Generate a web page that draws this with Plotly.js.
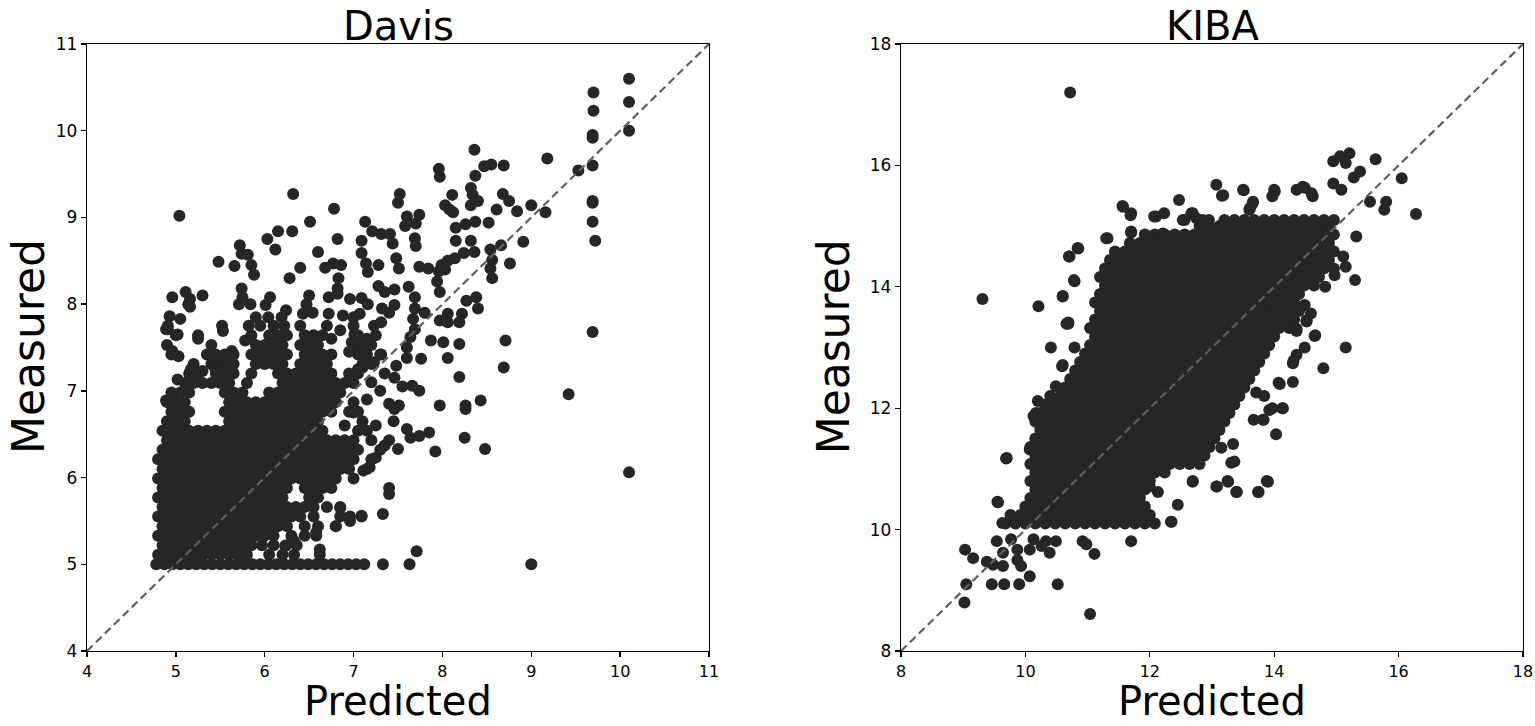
<!DOCTYPE html>
<html>
<head>
<meta charset="utf-8">
<script src="https://cdn.plot.ly/plotly-3.0.1.min.js"></script>
<style>html,body{margin:0;padding:0;background:#fff;}#chart{width:1535px;height:726px;}</style>
</head>
<body>
<div id="chart"></div>
<script>
// ---------- Davis ----------
// predicted values of the points lying on the measured = 5 floor
const davisFloorPred = [4.78,4.87,4.96,5.05,5.14,5.23,5.32,5.41,5.5,5.59,5.68,5.77,5.86,5.95,6.04,6.13,6.22,6.31,6.4,6.49,6.58,6.67,6.76,6.85,6.94,7.03,7.12,7.33,7.63,9.0];
const davisFloorMeas = 5;
// dense core, one row per measured level: [measured, predicted...]
const davisCoreRows = [
 [5.11, 4.8,4.9,5.0,5.1,5.2,5.3,5.4,5.5,5.6,5.7,5.8, 6.05,6.2,6.33,6.62],
 [5.22, 4.85,4.95,5.05,5.15,5.25,5.35,5.45,5.55,5.65,5.75,5.85, 5.97,6.1,6.24,6.36],
 [5.33, 4.8,4.9,5.0,5.1,5.2,5.3,5.4,5.5,5.6,5.7,5.8,5.9,6.0,6.1, 6.3,6.45,6.58],
 [5.44, 4.85,4.95,5.05,5.15,5.25,5.35,5.45,5.55,5.65,5.75,5.85,5.95,6.05,6.15,6.25, 6.45,6.6,6.8],
 [5.55, 4.8,4.9,5.0,5.1,5.2,5.3,5.4,5.5,5.6,5.7,5.8,5.9,6.0,6.1,6.2,6.3,6.4, 6.55,6.85,6.96,7.09],
 [5.66, 4.85,4.95,5.05,5.15,5.25,5.35,5.45,5.55,5.65,5.75,5.85,5.95,6.05,6.15,6.25,6.35,6.45,6.55, 6.7,6.85],
 [5.77, 4.8,4.9,5.0,5.1,5.2,5.3,5.4,5.5,5.6,5.7,5.8,5.9,6.0,6.1,6.2, 6.5,6.6],
 [5.88, 4.85,4.95,5.05,5.15,5.25,5.35,5.45,5.55,5.65,5.75,5.85,5.95,6.05,6.15,6.25, 6.45,6.55,6.65,6.75,7.4],
 [5.99, 4.8,4.9,5.0,5.1,5.2,5.3,5.4,5.5,5.6,5.7,5.8,5.9,6.0,6.1,6.2,6.3,6.4,6.5,6.6,6.7,6.8, 7.0],
 [6.10, 4.85,4.95,5.05,5.15,5.25,5.35,5.45,5.55,5.65,5.75,5.85,5.95,6.05,6.15,6.25,6.35,6.45,6.55,6.65,6.75,6.85,6.95, 7.15],
 [6.21, 4.8,4.9,5.0,5.1,5.2,5.3,5.4,5.5,5.6,5.7,5.8,5.9,6.0,6.1,6.2,6.3,6.4,6.5,6.6,6.7,6.8,6.9,7.0, 7.2],
 [6.32, 4.85,4.95,5.05,5.15,5.25,5.35,5.45,5.55,5.65,5.75,5.85,5.95,6.05,6.15,6.25,6.35,6.45,6.55,6.65,6.75,6.85,6.95,7.05, 7.3],
 [6.43, 4.9,5.0,5.1,5.2,5.3,5.4,5.5,5.6,5.7,5.8,5.9,6.0,6.1,6.2,6.3,6.4,6.5,6.6,6.7,6.8,6.9,7.0, 7.2,7.4],
 [6.54, 4.85,4.95,5.05,5.15,5.25,5.35,5.45,5.55,5.65,5.75,5.85,5.95,6.05,6.15,6.25,6.35,6.45,6.55,6.65, 7.05,7.15],
 [6.65, 4.9,5.0,5.1, 5.6,5.7,5.8,5.9,6.0,6.1,6.2,6.3,6.4,6.5,6.6, 7.1],
 [6.76, 4.95,5.05,5.15, 5.55,5.65,5.75,5.85,5.95,6.05,6.15,6.25,6.35,6.45,6.55,6.65,6.75, 6.95,7.05],
 [6.87, 4.9,5.0,5.1, 5.6,5.7,5.8,5.9,6.0,6.1,6.2,6.3,6.4,6.5,6.6,6.7,6.8, 7.0],
 [6.98, 4.95,5.05,5.15, 5.55,5.65,5.75, 6.05,6.15,6.25,6.35,6.45,6.55,6.65,6.75,6.85],
 [7.09, 5.1,5.2,5.3,5.4,5.5,5.6, 5.8, 6.2,6.3,6.4,6.5,6.6,6.7,6.8, 6.9,7.0],
 [7.20, 5.15,5.25, 5.45,5.55,5.65, 5.85, 6.15,6.25,6.35,6.45,6.55,6.65,6.75, 6.95,7.05],
 [7.31, 5.2, 5.4,5.5,5.6, 5.9,6.0,6.1,6.2, 6.4,6.5,6.6,6.7, 7.1,7.2],
 [7.42, 4.95, 5.35,5.45,5.55,5.65, 5.85,5.95,6.05,6.15,6.25, 6.45,6.55,6.65,6.75, 7.05,7.15,7.3],
 [7.53, 4.9, 5.4, 5.9,6.0,6.1,6.2, 6.4,6.5,6.6, 7.0,7.2],
 [7.64, 5.0, 5.25, 5.85,6.05,6.15,6.25, 6.45,6.55,6.65, 7.05,7.25],
 [7.75, 4.91, 5.52, 5.82,5.95, 6.1,6.22, 6.4, 7.0]
];
// scattered points: [predicted, measured]
const davisScatter = [
 [5.04,9.02],[10.1,10.6],[10.1,10.33],[10.1,10.0],[9.70,10.44],[9.70,10.23],[9.69,9.95],[9.69,9.92],[9.69,9.6],[9.69,9.19],[9.69,9.17],[9.69,8.95],[9.72,8.73],[9.69,7.68],
 [9.18,9.68],[9.53,9.54],[8.36,9.78],[8.55,9.61],[8.47,9.59],[8.69,9.6],[7.96,9.56],[7.97,9.47],[8.37,9.48],[8.32,9.34],[8.34,9.26],[8.11,9.26],
 [8.03,9.14],[8.08,9.09],[8.12,9.06],[8.32,9.14],[8.40,9.19],[8.68,9.27],[8.75,9.19],[8.61,9.09],[8.84,9.07],[9.0,9.14],[9.16,9.06],[8.52,8.94],
 [8.15,8.88],[8.26,8.92],[8.37,8.95],[6.32,9.27],[6.78,9.1],[6.51,8.95],[7.52,9.27],[7.50,9.17],[7.60,9.01],[7.74,9.03],[7.58,8.9],[7.70,8.93],
 [7.13,8.95],[7.21,8.84],[7.31,8.81],[7.41,8.81],[7.44,8.7],[7.69,8.76],[7.70,8.67],[6.15,8.84],[6.31,8.84],[6.03,8.75],[6.12,8.63],[6.82,8.75],
 [7.09,8.73],[7.09,8.59],[5.72,8.68],[5.74,8.58],[5.81,8.57],[6.6,8.6],[5.48,8.49],[5.66,8.44],[5.85,8.45],[5.88,8.34],[6.40,8.42],[6.68,8.42],
 [6.77,8.47],[6.86,8.45],[7.14,8.47],[7.28,8.45],[7.16,8.37],[7.48,8.53],[7.51,8.41],[7.74,8.43],[7.84,8.41],[7.99,8.45],[8.06,8.5],[8.14,8.53],
 [8.24,8.59],[8.36,8.6],[7.96,8.38],[8.03,8.4],[8.54,8.63],[8.66,8.68],[8.56,8.51],[8.54,8.41],[8.56,8.3],[8.76,8.47],[8.91,8.72],[8.15,8.73],
 [8.32,8.73],[6.28,8.3],[6.83,8.3],[6.82,8.18],[5.74,8.18],[5.75,8.08],[4.96,8.08],[5.11,8.14],[5.16,8.06],[5.30,8.1],[5.14,8.0],[5.16,7.97],
 [4.93,7.86],[5.05,7.83],[4.91,7.71],[5.53,7.69],[5.71,8.0],[5.84,8.0],[6.06,8.08],[6.01,7.99],[6.24,7.93],[6.19,7.85],[5.90,7.85],[6.04,7.85],
 [6.50,8.1],[6.47,8.0],[6.43,7.89],[6.54,7.9],[6.72,8.08],[6.82,8.12],[6.96,8.06],[7.09,8.07],[7.16,8.0],[6.72,7.89],[6.88,7.87],[7.07,7.89],
 [7.28,8.21],[7.35,8.14],[7.46,8.17],[7.62,8.2],[7.69,8.08],[7.32,7.95],[7.46,7.99],[7.69,7.95],[7.67,7.83],[7.94,8.26],[7.97,8.14],[8.06,7.89],
 [7.97,7.81],[8.27,8.04],[8.38,8.08],[8.40,7.95],[8.22,7.89],
 [8.71,7.58],[8.69,7.27],[9.42,6.96],[10.1,6.06],[8.19,7.54],[8.06,7.38],[8.19,7.16],[7.97,6.83],[8.26,6.83],[8.26,6.79],[8.43,6.89],[7.85,6.52],
 [8.25,6.46],[7.92,6.3],[8.48,6.33],[7.71,5.15],[7.33,5.58],[7.40,5.81],[7.09,5.56],[6.96,5.5],[6.80,5.44],[6.85,5.65],[6.62,5.17],[6.58,5.37],
 [6.33,5.27],[6.23,5.21],[7.25,6.23],[7.11,6.08],[7.18,6.12],[7.35,6.37],[7.50,6.33],[7.60,6.56],[7.64,6.46],[7.74,6.48],[7.46,6.79],[7.51,6.83],
 [7.74,7.0],[7.66,7.06],[7.87,7.58],[8.01,7.56],[7.60,7.38],[7.76,7.37],[8.06,7.79],[8.19,7.79],[7.69,7.71],[7.64,7.62],[7.01,7.65],[7.09,7.52],
 [6.98,7.56],[7.23,7.75],[7.31,7.79],[7.48,7.29],[7.46,7.15],[7.10,7.27],[7.23,7.33],[7.31,7.42],[4.89,7.71],[5.02,7.65],[5.25,7.6],[5.78,7.58],
 [4.96,7.46],[5.03,7.4],[5.39,7.42],[5.55,7.4],[5.63,7.46],[5.17,7.25],[5.30,7.23],[5.44,7.27],[5.02,7.13],[4.89,6.89],[5.65,7.31],
 [6.9,6.6],[7.0,6.75],[7.15,6.9],[7.3,7.0],[7.4,6.85],[7.2,7.1],[7.05,7.25],[7.35,7.2],[7.55,7.05],[7.25,6.6],[7.45,6.65],[6.95,7.45],
 [7.15,7.6],[6.85,7.7],[7.0,7.85],[7.4,7.9],[7.6,7.5],[7.8,7.9],[6.75,7.6],[6.7,7.75]
];

// ---------- KIBA ----------
// dense core, one row per measured level: [measured, predicted...]
const kibaCoreRows = [
 [10.10, 9.68,9.84,10.0,10.16,10.32,10.48,10.64,10.8,10.96,11.12,11.28,11.44,11.6,11.76,11.92,12.08],
 [10.24, 9.76,9.92,10.08,10.24,10.4,10.56,10.72,10.88,11.04,11.2,11.36,11.52,11.68,11.84,12.0],
 [10.38, 10.0,10.16,10.32,10.48,10.64,10.8,10.96,11.12,11.28,11.44,11.6,11.76,11.92],
 [10.52, 10.08,10.24,10.4,10.56,10.72,10.88,11.04,11.2,11.36,11.52,11.68,11.84],
 [10.66, 10.16,10.32,10.48,10.64,10.8,10.96,11.12,11.28,11.44,11.6,11.76,11.92],
 [10.80, 10.08,10.24,10.4,10.56,10.72,10.88,11.04,11.2,11.36,11.52,11.68,11.84,12.0],
 [10.94, 10.16,10.32,10.48,10.64,10.8,10.96,11.12,11.28,11.44,11.6,11.76,11.92,12.08,12.24],
 [11.08, 10.08,10.24,10.4,10.56,10.72,10.88,11.04,11.2,11.36,11.52,11.68,11.84,12.0,12.16,12.32,12.48,12.64,12.8],
 [11.22, 10.16,10.32,10.48,10.64,10.8,10.96,11.12,11.28,11.44,11.6,11.76,11.92,12.08,12.24,12.4,12.56,12.72,12.88],
 [11.36, 10.08,10.24,10.4,10.56,10.72,10.88,11.04,11.2,11.36,11.52,11.68,11.84,12.0,12.16,12.32,12.48,12.64,12.8,12.96],
 [11.50, 10.16,10.32,10.48,10.64,10.8,10.96,11.12,11.28,11.44,11.6,11.76,11.92,12.08,12.24,12.4,12.56,12.72,12.88,13.04],
 [11.64, 10.24,10.4,10.56,10.72,10.88,11.04,11.2,11.36,11.52,11.68,11.84,12.0,12.16,12.32,12.48,12.64,12.8,12.96,13.12],
 [11.78, 10.16,10.32,10.48,10.64,10.8,10.96,11.12,11.28,11.44,11.6,11.76,11.92,12.08,12.24,12.4,12.56,12.72,12.88,13.04,13.2],
 [11.92, 10.24,10.4,10.56,10.72,10.88,11.04,11.2,11.36,11.52,11.68,11.84,12.0,12.16,12.32,12.48,12.64,12.8,12.96,13.12,13.28],
 [12.06, 10.32,10.48,10.64,10.8,10.96,11.12,11.28,11.44,11.6,11.76,11.92,12.08,12.24,12.4,12.56,12.72,12.88,13.04,13.2,13.36],
 [12.20, 10.4,10.56,10.72,10.88,11.04,11.2,11.36,11.52,11.68,11.84,12.0,12.16,12.32,12.48,12.64,12.8,12.96,13.12,13.28,13.44],
 [12.34, 10.64,10.8,10.96,11.12,11.28,11.44,11.6,11.76,11.92,12.08,12.24,12.4,12.56,12.72,12.88,13.04,13.2,13.36,13.52],
 [12.48, 10.72,10.88,11.04,11.2,11.36,11.52,11.68,11.84,12.0,12.16,12.32,12.48,12.64,12.8,12.96,13.12,13.28,13.44,13.6],
 [12.62, 10.8,10.96,11.12,11.28,11.44,11.6,11.76,11.92,12.08,12.24,12.4,12.56,12.72,12.88,13.04,13.2,13.36,13.52,13.68],
 [12.76, 10.88,11.04,11.2,11.36,11.52,11.68,11.84,12.0,12.16,12.32,12.48,12.64,12.8,12.96,13.12,13.28,13.44,13.6,13.76],
 [12.90, 10.96,11.12,11.28,11.44,11.6,11.76,11.92,12.08,12.24,12.4,12.56,12.72,12.88,13.04,13.2,13.36,13.52,13.68,13.84],
 [13.04, 11.04,11.2,11.36,11.52,11.68,11.84,12.0,12.16,12.32,12.48,12.64,12.8,12.96,13.12,13.28,13.44,13.6,13.76,13.92],
 [13.18, 11.12,11.28,11.44,11.6,11.76,11.92,12.08,12.24,12.4,12.56,12.72,12.88,13.04,13.2,13.36,13.52,13.68,13.84,14.0],
 [13.32, 11.04,11.2,11.36,11.52,11.68,11.84,12.0,12.16,12.32,12.48,12.64,12.8,12.96,13.12,13.28,13.44,13.6,13.76,13.92,14.08,14.24],
 [13.46, 11.12,11.28,11.44,11.6,11.76,11.92,12.08,12.24,12.4,12.56,12.72,12.88,13.04,13.2,13.36,13.52,13.68,13.84,14.0,14.16,14.32],
 [13.60, 11.2,11.36,11.52,11.68,11.84,12.0,12.16,12.32,12.48,12.64,12.8,12.96,13.12,13.28,13.44,13.6,13.76,13.92,14.08,14.24,14.4],
 [13.74, 11.12,11.28,11.44,11.6,11.76,11.92,12.08,12.24,12.4,12.56,12.72,12.88,13.04,13.2,13.36,13.52,13.68,13.84,14.0,14.16,14.32],
 [13.88, 11.2,11.36,11.52,11.68,11.84,12.0,12.16,12.32,12.48,12.64,12.8,12.96,13.12,13.28,13.44,13.6,13.76,13.92,14.08,14.24,14.4],
 [14.02, 11.28,11.44,11.6,11.76,11.92,12.08,12.24,12.4,12.56,12.72,12.88,13.04,13.2,13.36,13.52,13.68,13.84,14.0,14.16,14.32,14.48,14.64],
 [14.16, 11.2,11.36,11.52,11.68,11.84,12.0,12.16,12.32,12.48,12.64,12.8,12.96,13.12,13.28,13.44,13.6,13.76,13.92,14.08,14.24,14.4,14.56,14.72],
 [14.30, 11.28,11.44,11.6,11.76,11.92,12.08,12.24,12.4,12.56,12.72,12.88,13.04,13.2,13.36,13.52,13.68,13.84,14.0,14.16,14.32,14.48,14.64,14.8,14.96],
 [14.44, 11.36,11.52,11.68,11.84,12.0,12.16,12.32,12.48,12.64,12.8,12.96,13.12,13.28,13.44,13.6,13.76,13.92,14.08,14.24,14.4,14.56,14.72,14.88],
 [14.58, 11.44,11.6,11.76,11.92,12.08,12.24,12.4,12.56,12.72,12.88,13.04,13.2,13.36,13.52,13.68,13.84,14.0,14.16,14.32,14.48,14.64,14.8,14.96],
 [14.72, 11.68,11.84,12.0,12.16,12.32,12.48,12.64,12.8,12.96,13.12,13.28,13.44,13.6,13.76,13.92,14.08,14.24,14.4,14.56,14.72,14.88],
 [14.86, 11.92,12.08,12.24,12.4,12.56,12.72,12.88,13.04,13.2,13.36,13.52,13.68,13.84,14.0,14.16,14.32,14.48,14.64,14.8,14.96],
 [15.00, 12.8,12.96,13.12,13.28,13.44,13.6,13.76,13.92,14.08,14.24,14.4,14.56,14.72,14.88],
 [15.10, 13.2,13.36,13.52,13.68,13.84,14.0,14.16,14.32,14.48,14.64,14.8,14.96]
];
// scattered points: [predicted, measured]
const kibaScatter = [
 [10.72,17.2],[9.31,13.8],[10.21,13.68],[10.60,13.85],[10.69,13.39],[10.79,14.09],[10.71,14.5],[10.85,14.63],[11.30,14.8],[11.57,15.32],[11.69,15.18],
 [11.70,14.89],[12.02,14.8],[12.47,15.43],[12.10,15.16],[12.23,15.21],[12.56,15.1],[12.67,15.21],[12.75,15.13],[12.95,15.1],[13.07,15.68],[13.16,15.5],
 [13.50,15.6],[13.66,15.4],[13.61,15.29],[14.0,15.6],[13.97,15.49],[14.36,15.6],[14.49,15.63],[14.62,15.49],[14.95,16.07],[15.06,16.15],[15.21,16.2],
 [15.15,16.04],[15.63,16.1],[15.38,15.9],[15.28,15.8],[14.95,15.7],[15.08,15.6],[16.05,15.79],[15.54,15.4],[15.80,15.4],[15.77,15.27],[16.28,15.2],
 [15.32,14.83],[15.30,14.11],[14.82,14.0],[15.11,14.5],[15.15,14.33],[14.97,14.19],[14.49,13.7],[14.52,13.45],[14.33,13.31],
 [9.02,8.8],[9.05,9.1],[9.03,9.67],[9.16,9.53],[9.46,9.1],[9.66,9.1],[9.90,9.1],[10.07,9.23],[10.52,9.1],[11.04,8.61],[10.92,9.81],[10.98,9.76],
 [11.11,9.6],[11.70,9.81],[9.54,9.81],[9.64,9.62],[9.48,9.42],[9.64,9.4],[9.87,9.5],[9.93,9.4],[10.07,9.67],[10.26,9.73],[10.39,9.62],[10.49,9.81],
 [10.33,9.81],[10.13,9.84],[9.77,9.84],[9.38,9.47],[9.87,9.67],[9.56,10.45],[9.70,11.18],[12.35,10.13],[12.45,10.41],[12.69,10.8],[13.08,10.71],
 [13.25,10.8],[13.40,10.62],[13.74,10.62],[13.88,10.8],[13.31,11.1],[13.15,11.35],[13.34,11.41],[14.03,11.57],[13.83,11.81],[13.67,11.81],
 [13.97,12.0],[14.13,12.0],[13.84,12.2],[14.30,12.43],[14.07,12.42],[14.79,12.66],[15.15,13.0],[14.66,13.2],[14.36,13.31],[14.52,13.43],[14.30,12.74],
 [14.36,12.88],[10.41,13.0],[10.69,13.41],[10.79,13.0],[10.59,12.69],[10.49,12.36],[10.20,12.12],[10.13,11.87],[10.2,11.76],[10.07,11.32],
 [13.18,15.51],[13.51,15.59],[14.01,15.57],[14.46,15.65],[14.6,15.54],[11.56,15.33],[11.7,15.21],[12.07,15.16],[12.53,15.1],[12.69,15.21],[12.85,15.1],
 [13.65,15.37],[13.6,15.27],[11.32,14.8],[11.7,14.91],[12.21,14.88],[12.4,14.77],[10.84,14.64],[10.7,14.5],[10.78,14.11],[10.6,13.84],[10.66,13.39],
 [10.6,12.71],[10.17,11.92],[9.69,11.17],[9.55,10.46],[9.63,10.11],[14.09,12.4],[13.92,11.97],[14.14,12.0],[13.82,11.81],[13.71,12.26],
 [13.87,13.54],[13.98,13.51],[14.36,13.27],[14.49,13.0],[14.31,12.78],[14.65,13.19],[14.59,13.56],[13.36,11.12],[13.26,10.79],[13.07,10.71],
 [13.39,10.62],[13.75,10.62],[13.9,10.79],[12.69,10.79],[12.34,10.13],[12.13,10.62],[12.0,10.71]
];

// diagonal y = x reference lines (axis corners)
const davisDiag = [4, 11];
const kibaDiag = [8, 18];

function flatten(rows) {
  const x = [], y = [];
  rows.forEach(r => { for (let i = 1; i < r.length; i++) { x.push(r[i]); y.push(r[0]); } });
  return {x, y};
}
function pairs(list) { return {x: list.map(p => p[0]), y: list.map(p => p[1])}; }

const dc = flatten(davisCoreRows), ds = pairs(davisScatter);
const kc = flatten(kibaCoreRows), ks = pairs(kibaScatter);

const dx = davisFloorPred.concat(dc.x, ds.x);
const dy = davisFloorPred.map(() => davisFloorMeas).concat(dc.y, ds.y);
const kx = kc.x.concat(ks.x), ky = kc.y.concat(ks.y);

const markerStyle = {color: '#262626', size: 12, line: {width: 0}};
const lineStyle = {color: '#5f5f5f', width: 2.2, dash: '8px,4.5px'};

const traces = [
  {type: 'scatter', mode: 'markers', x: dx, y: dy, marker: markerStyle, xaxis: 'x', yaxis: 'y', hoverinfo: 'x+y'},
  {type: 'scatter', mode: 'lines', x: davisDiag, y: davisDiag, line: lineStyle, xaxis: 'x', yaxis: 'y', hoverinfo: 'skip'},
  {type: 'scatter', mode: 'markers', x: kx, y: ky, marker: markerStyle, xaxis: 'x2', yaxis: 'y2', hoverinfo: 'x+y'},
  {type: 'scatter', mode: 'lines', x: kibaDiag, y: kibaDiag, line: lineStyle, xaxis: 'x2', yaxis: 'y2', hoverinfo: 'skip'}
];

const fam = 'DejaVu Sans, sans-serif';
function axis(range, dtick, domain, anchor, fontSize) {
  return {range: range, dtick: dtick, tick0: range[0], domain: domain, anchor: anchor,
    showgrid: false, zeroline: false, showline: true, linecolor: '#000', linewidth: 1.3, mirror: true,
    ticks: 'outside', ticklen: 5, tickwidth: 1.3, tickcolor: '#000',
    tickfont: {family: fam, size: fontSize, color: '#000'}, fixedrange: true};
}
const dL = 87/1535, dR = 709/1535, kL = 901/1535, kR = 1523/1535;
const titleFont = {family: fam, size: 40, color: '#000'};
const xLabelFont = {family: fam, size: 40, color: '#000'};
const yLabelFont = {family: fam, size: 44, color: '#000'};
const layout = {
  width: 1535, height: 726,
  margin: {l: 0, r: 0, t: 44, b: 75},
  paper_bgcolor: '#fff', plot_bgcolor: '#fff',
  showlegend: false,
  font: {family: fam, color: '#000'},
  xaxis: axis([4, 11], 1, [dL, dR], 'y', 16),
  yaxis: axis([4, 11], 1, [0, 1], 'x', 17),
  xaxis2: axis([8, 18], 2, [kL, kR], 'y2', 16),
  yaxis2: axis([8, 18], 2, [0, 1], 'x2', 17),
  annotations: [
    {text: 'Davis', xref: 'paper', yref: 'paper', x: (dL + dR) / 2, y: (651 - 0.5) / 607, xanchor: 'center', yanchor: 'top', showarrow: false, font: titleFont},
    {text: 'KIBA', xref: 'paper', yref: 'paper', x: (kL + kR) / 2, y: (651 - 0.5) / 607, xanchor: 'center', yanchor: 'top', showarrow: false, font: titleFont},
    {text: 'Predicted', xref: 'paper', yref: 'paper', x: (dL + dR) / 2, y: (651 - 725.5) / 607, xanchor: 'center', yanchor: 'bottom', showarrow: false, font: xLabelFont},
    {text: 'Predicted', xref: 'paper', yref: 'paper', x: (kL + kR) / 2, y: (651 - 725.5) / 607, xanchor: 'center', yanchor: 'bottom', showarrow: false, font: xLabelFont},
    {text: 'Measured', xref: 'paper', yref: 'paper', x: 1/1535, y: (651 - 346.5) / 607, xanchor: 'left', yanchor: 'middle', textangle: -90, showarrow: false, font: yLabelFont},
    {text: 'Measured', xref: 'paper', yref: 'paper', x: 833.8/1535, y: (651 - 346.5) / 607, xanchor: 'center', yanchor: 'middle', textangle: -90, showarrow: false, font: yLabelFont}
  ]
};
Plotly.newPlot('chart', traces, layout, {displayModeBar: false, staticPlot: true});
</script>
</body>
</html>
